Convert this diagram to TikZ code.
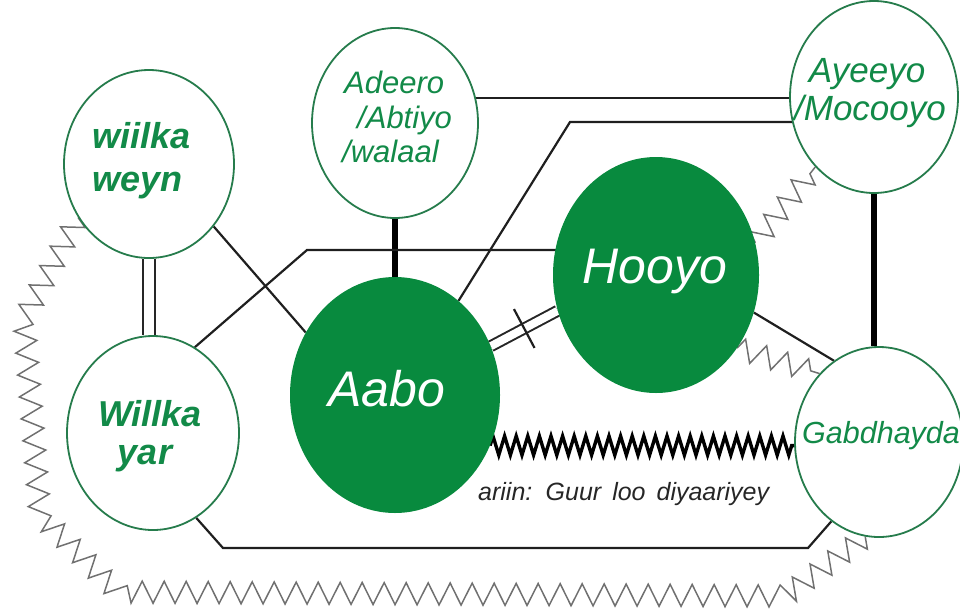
\documentclass[tikz,border=0pt]{standalone}
\usepackage{fontspec}
\setmainfont{Liberation Sans}
\usetikzlibrary{shapes.geometric,decorations.pathmorphing,calc,backgrounds}
\definecolor{famgreen}{RGB}{8,138,62}
\definecolor{txtgreen}{RGB}{18,138,72}
\definecolor{rimgreen}{RGB}{38,124,76}
\definecolor{zzgray}{RGB}{112,112,112}
\begin{document}
\begin{tikzpicture}[x=1pt,y=-1pt,
  person/.style={ellipse, draw=rimgreen, line width=1.8pt, fill=white, inner sep=0pt},
  parent/.style={ellipse, fill=famgreen, inner sep=0pt},
  lbl/.style={inner sep=0pt, text=txtgreen, font=\itshape\fontsize{#1}{#1}\selectfont},
  boldlbl/.style={inner sep=0pt, text=txtgreen, font=\bfseries\itshape\fontsize{#1}{#1}\selectfont},
  whitelbl/.style={inner sep=0pt, text=white, font=\itshape\fontsize{50}{50}\selectfont},
  tie/.style={line width=2.2pt, black!88},
  strong/.style={line width=6pt, black},
  twin/.style={line width=2pt, draw=black!85, double=white, double distance=#1},
  strain/.style={zzgray, line width=1.5pt, line join=miter, decorate,
    decoration={zigzag, segment length=#1, amplitude=11pt}},
  conflict/.style={black, line width=3.4pt, decorate,
    decoration={zigzag, segment length=11.6pt, amplitude=9.5pt}}
]
\useasboundingbox (0,0) rectangle (960,611);

% people
\node[person, minimum width=170pt, minimum height=188pt] (ww)  at (149,164) {};
\node[person, minimum width=166pt, minimum height=190pt] (ad)  at (395,123) {};
\node[person, minimum width=168pt, minimum height=192pt] (ay)  at (874,97)  {};
\node[person, minimum width=172pt, minimum height=194pt] (wy)  at (153,433) {};
\node[parent, minimum width=210pt, minimum height=236pt] (aabo)  at (395,395) {};
\node[parent, minimum width=206pt, minimum height=236pt] (hooyo) at (656,275) {};
\node[person, minimum width=168pt, minimum height=190pt] (gab) at (879,442) {};

% names
\node[boldlbl=36, anchor=base west] (ww1) at (92,148) {wiilka};
\node[boldlbl=36, anchor=base west] (ww2) at (92,191) {weyn};
\node[lbl=31, anchor=base west] (ad1) at (344,93)  {Adeero};
\node[lbl=31, anchor=base west] (ad2) at (357,128) {/Abtiyo};
\node[lbl=31, anchor=base west] (ad3) at (342,162) {/walaal};
\node[lbl=35, anchor=base] (ay1) at (867,82)  {Ayeeyo};
\node[lbl=35, anchor=base] (ay2) at (870,120) {/Mocooyo};
\node[boldlbl=36, anchor=base] (wy1) at (150,426) {Willka};
\node[boldlbl=36, anchor=base] (wy2) at (145,464) {yar};
\node[whitelbl, anchor=base] (aabot)  at (387,406) {Aabo};
\node[whitelbl, anchor=base] (hooyot) at (655,283) {Hooyo};
\node[lbl=30.5, anchor=base west] (gabt) at (802,443) {Gabdhayda};
\node[inner sep=0pt, anchor=base west, text=black!85,
      font=\itshape\fontsize{25}{25}\selectfont] (cap) at (478,500)
      {\spaceskip=11pt ariin: Guur loo diyaariyey};

\begin{pgfonlayer}{background}
  % bloodlines
  \draw[strong] (ad.south) -- (aabo.north);
  \draw[strong] (ay.south) -- (ay.south |- gab.north);
  \draw[twin=10pt] (ww.south) -- (ww.south |- wy.north);

  % plain ties
  \draw[tie] (ww.-44) -- (aabo.145);
  \coordinate (k1) at (307,250);
  \draw[tie] (wy.64) -- (k1) -- (k1 -| hooyo.center);
  \draw[tie] (ad.17) -- (ad.17 -| ay.center);
  \coordinate (k2) at (570,122);
  \draw[tie] (aabo.56) -- (k2) -- (k2 -| ay.center);
  \draw[tie] (hooyo.-21) -- (gab.119);
  \coordinate (b1) at (223,548);
  \coordinate (b2) at (808,548);
  \draw[tie] (wy.-63) -- (b1) -- (b2) -- (gab.-121);

  % separated couple
  \draw[twin=8pt] (aabo.27) -- (hooyo.200);
  \coordinate (m) at ($(aabo.27)!0.5!(hooyo.200)$);
  \coordinate (m1) at ($(m)!22pt!90:(hooyo.200)$);
  \coordinate (m2) at ($(m)!22pt!-90:(hooyo.200)$);
  \draw[tie] (m1) -- (m2);

  % strained ties
  \draw[strain=22pt] (hooyo.18) -- (ay.-130);
  \draw[strain=22pt] (hooyo.-42) -- (gab.131);
  \coordinate (o1) at (24,318);
  \coordinate (o2) at (40,515);
  \coordinate (o3) at (118,592);
  \coordinate (o4) at (785,596);
  \draw[strain=22pt] (ww.-143) -- (o1) -- (o2) -- (o3) -- (o4) -- (gab.-98);

  % arranged marriage
  \draw[conflict] (aabo.-28) -- (aabo.-28 -| gab.west);
\end{pgfonlayer}
\end{tikzpicture}
\end{document}
